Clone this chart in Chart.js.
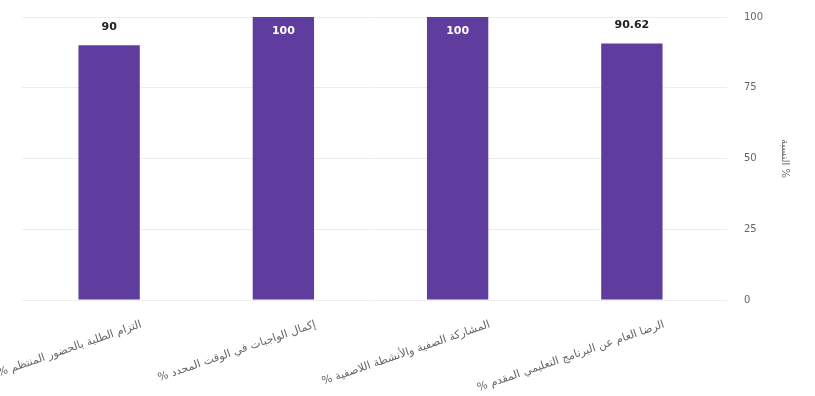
<!DOCTYPE html>
<html><head><meta charset="utf-8">
<script src="https://cdn.jsdelivr.net/npm/chart.js@4.4.0/dist/chart.umd.min.js"></script>
<style>html,body{margin:0;padding:0;background:#fff;}canvas{display:block;}</style>
</head><body>
<canvas id="c" width="815" height="396"></canvas>
<script>
const categories = [
  "% التزام الطلبة بالحضور المنتظم",
  "% إكمال الواجبات في الوقت المحدد",
  "% المشاركة الصفية والأنشطة اللاصفية",
  "% الرضا العام عن البرنامج التعليمي المقدم"
];
const values = [90, 100, 100, 90.62];
const yTicks = [0, 25, 50, 75, 100];
const yTitle = "النسبة %";
const barColor = "#5f3d9f";

const valueLabels = {
  id: 'valueLabels',
  afterDatasetsDraw(chart) {
    const ctx = chart.ctx;
    const meta = chart.getDatasetMeta(0);
    ctx.save();
    ctx.font = "bold 11px 'DejaVu Sans', sans-serif";
    ctx.textAlign = 'center';
    meta.data.forEach((bar, i) => {
      const txt = String(values[i]);
      const top = bar.y;
      if (top - chart.chartArea.top < 18) {
        ctx.fillStyle = '#ffffff';
        ctx.textBaseline = 'top';
        ctx.fillText(txt, bar.x, top + 9);
      } else {
        ctx.fillStyle = '#222222';
        ctx.textBaseline = 'bottom';
        ctx.fillText(txt, bar.x, top - 13);
      }
    });
    ctx.restore();
  }
};

new Chart(document.getElementById('c'), {
  type: 'bar',
  data: {
    labels: categories,
    datasets: [{ data: values, backgroundColor: barColor, barPercentage: 0.44, categoryPercentage: 0.8 }]
  },
  options: {
    responsive: false,
    animation: false,
    layout: { padding: { top: 17, right: 18, left: 0, bottom: 0 } },
    plugins: { legend: { display: false }, tooltip: { enabled: false } },
    scales: {
      x: {
        grid: { display: false },
        border: { display: false },
        afterFit(axis) { axis.paddingLeft = 22; axis.paddingRight = 0; axis.height = 96; },
        ticks: { minRotation: 19, maxRotation: 19, labelOffset: 32, padding: 10, color: '#666', font: { size: 11, family: "'DejaVu Sans', sans-serif" } }
      },
      y: {
        position: 'right',
        min: 0, max: 100,
        afterBuildTicks(axis) { axis.ticks = yTicks.map(v => ({ value: v })); },
        afterFit(axis) { axis.width = 78; axis.paddingTop = 0; axis.paddingBottom = 0; },
        grid: { color: '#ededed' },
        border: { display: false },
        ticks: { color: '#666', padding: 17, font: { size: 10, family: "'DejaVu Sans', sans-serif" } },
        title: { display: true, text: yTitle, color: '#666', padding: 6, font: { size: 10, family: "'DejaVu Sans', sans-serif" } }
      }
    }
  },
  plugins: [valueLabels]
});
</script>
</body></html>
